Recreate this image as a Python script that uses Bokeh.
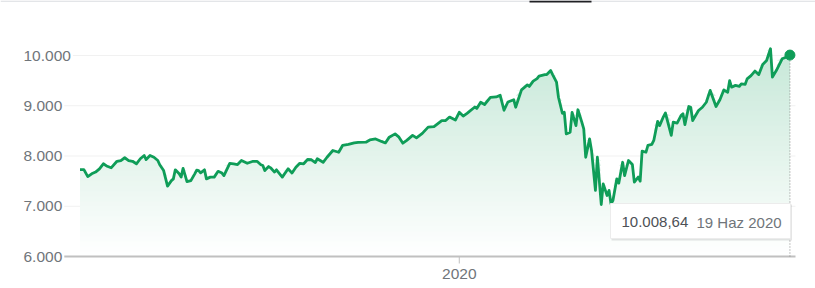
import numpy as np
from datetime import date
from bokeh.plotting import figure
from bokeh.models import Range1d, Label, BoxAnnotation
from bokeh.embed import file_html
from bokeh.resources import INLINE

# ---------------- data ----------------
START_DATE = date(2019, 6, 20)
day_offset = [0, 2, 4, 6, 8, 10, 12, 14, 16, 19,
              21, 23, 25, 27, 29, 31, 33, 34, 36, 38,
              40, 41, 43, 45, 47, 48, 49, 51, 52, 53,
              55, 57, 59, 60, 61, 62, 64, 65, 67, 69,
              71, 73, 74, 77, 79, 81, 83, 86, 89, 91,
              93, 94, 95, 97, 98, 100, 101, 104, 107, 109,
              111, 113, 115, 117, 119, 121, 122, 125, 127, 130,
              133, 135, 138, 141, 143, 147, 149, 152, 155, 157,
              159, 162, 164, 166, 168, 171, 173, 176, 179, 182,
              185, 186, 188, 190, 193, 195, 197, 199, 203, 204,
              206, 208, 211, 214, 216, 218, 220, 223, 224, 227,
              230, 231, 233, 235, 236, 239, 240, 242, 243, 245,
              246, 248, 249, 250, 252, 253, 255, 256, 258, 259,
              260, 262, 263, 265, 266, 268, 269, 271, 272, 273,
              274, 276, 277, 279, 280, 282, 284, 285, 287, 288,
              289, 291, 292, 294, 295, 297, 298, 300, 301, 304,
              305, 307, 309, 310, 311, 313, 314, 315, 318, 320,
              322, 324, 327, 329, 331, 333, 334, 335, 337, 339,
              340, 342, 343, 345, 347, 349, 351, 353, 355, 356,
              358, 361, 363, 365]
close = [7730, 7730, 7590, 7645, 7680, 7745, 7845, 7795, 7765, 7895,
         7910, 7965, 7910, 7895, 7845, 7945, 8010, 7930, 8010, 7975,
         7910, 7825, 7710, 7400, 7510, 7545, 7725, 7645, 7580, 7755,
         7490, 7510, 7645, 7720, 7710, 7665, 7725, 7545, 7580, 7580,
         7695, 7660, 7610, 7855, 7845, 7830, 7910, 7855, 7895, 7895,
         7825, 7810, 7710, 7790, 7765, 7680, 7725, 7580, 7745, 7660,
         7775, 7855, 7845, 7930, 7925, 7870, 7945, 7875, 7975, 8110,
         8075, 8210, 8230, 8260, 8270, 8275, 8320, 8340, 8290, 8260,
         8375, 8440, 8375, 8255, 8310, 8410, 8360, 8450, 8575, 8585,
         8675, 8705, 8705, 8775, 8715, 8870, 8795, 8850, 8975, 8945,
         9070, 9025, 9165, 9175, 9210, 8910, 9075, 9120, 8970, 9315,
         9415, 9385, 9490, 9540, 9590, 9620, 9620, 9700, 9620, 9470,
         9170, 8850, 8870, 8440, 8475, 8870, 8605, 8920, 8675, 8540,
         7975, 8340, 8110, 7315, 7975, 7035, 7445, 7215, 7315, 7050,
         7115, 7545, 7460, 7875, 7610, 7910, 7830, 7480, 7580, 7500,
         8095, 8075, 8210, 8230, 8310, 8690, 8605, 8785, 8855, 8410,
         8675, 8655, 8805, 8840, 8625, 8985, 8970, 8705, 8905, 8970,
         9070, 9305, 8985, 9120, 9315, 9270, 9500, 9370, 9405, 9385,
         9435, 9425, 9535, 9600, 9690, 9620, 9820, 9900, 10135, 9570,
         9700, 9935, 9965, 10008.64]
y_ticks = [6000, 7000, 8000, 9000, 10000]
y_tick_labels = ["6.000", "7.000", "8.000", "9.000", "10.000"]
x_tick_dates = [date(2020, 1, 1)]
x_tick_labels = ["2020"]
last_value_label = "10.008,64"
last_date_label = "19 Haz 2020"

# ---------------- layout / style ----------------
GREEN = (15, 157, 88)
GREEN_HEX = "#0f9d58"
GRAY_TXT = "#70757a"
FONT = "Liberation Sans"
W, H = 815, 288
PLOT_L, PLOT_R, BASE_PX = 62, 795, 256
X0_PX, PX_PER_DAY = 79.5, 1.945
PX_PER_UNIT = 50.25 / 1000.0
Y_BASE = y_ticks[0]


def xd(px):
    return (px - X0_PX) / PX_PER_DAY


def yd(py):
    return Y_BASE + (BASE_PX - py) / PX_PER_UNIT


p = figure(width=W, height=H, output_backend="svg", toolbar_location=None,
           x_axis_type=None, y_axis_type=None,
           x_range=Range1d(xd(0), xd(W)),
           y_range=Range1d(yd(H), yd(0)),
           min_border=0)
p.outline_line_color = None
p.background_fill_color = "white"
p.border_fill_color = "white"
p.xgrid.visible = False
p.ygrid.visible = False

x = np.array(day_offset, dtype=float)
v = np.array(close, dtype=float)

# light horizontal gridlines
p.segment(x0=[xd(PLOT_L)] * 4, x1=[xd(PLOT_R)] * 4, y0=y_ticks[1:], y1=y_ticks[1:],
          line_color="#f1f1f1", line_width=1)

# gradient area: stacked opaque layers, each from its level up to the line
levels = np.arange(Y_BASE, 10300, 100)
TOP_ALPHA = 0.23
for L in levels:
    mid = L + 50
    a = min(TOP_ALPHA, max(0.0, TOP_ALPHA * (mid - Y_BASE) / (10000 - Y_BASE)))
    col = "#%02x%02x%02x" % tuple(int(round(255 - a * (255 - c))) for c in GREEN)
    p.varea(x=x, y1=np.full_like(v, L), y2=np.maximum(v, L), fill_color=col)

# baseline (x axis line) and the year tick
p.segment(x0=[xd(PLOT_L)], x1=[xd(PLOT_R)], y0=[Y_BASE], y1=[Y_BASE],
          line_color="#c0c0c0", line_width=2)
x_tick_pos = [(d - START_DATE).days for d in x_tick_dates]
p.segment(x0=x_tick_pos, x1=x_tick_pos, y0=[Y_BASE] * len(x_tick_pos),
          y1=[yd(BASE_PX + 7)] * len(x_tick_pos), line_color="#c0c0c0", line_width=1)
for pos, lbl in zip(x_tick_pos, x_tick_labels):
    p.add_layout(Label(x=pos, y=yd(273), text=lbl, text_align="center",
                       text_baseline="middle", text_font=FONT,
                       text_font_size="15.5px", text_color=GRAY_TXT))

# dotted vertical at last point
p.segment(x0=[x[-1]], y0=[Y_BASE], x1=[x[-1]], y1=[v[-1]],
          line_color="#8a8a8a", line_width=1, line_dash="1 2")

# line + last-point dot
p.line(x, v, line_color=GREEN_HEX, line_width=2.8, line_join="round")
p.scatter(x[-1:], v[-1:], size=10, color=GREEN_HEX)

# tooltip box
p.quad(left=[xd(611)], right=[xd(791.5)], top=[yd(204)], bottom=[yd(240)],
       fill_color="#000000", fill_alpha=0.10, line_color=None)
p.quad(left=[xd(610)], right=[xd(790)], top=[yd(203)], bottom=[yd(238)],
       fill_color="white", line_color="#ececec", line_width=1)
p.add_layout(Label(x=xd(621), y=yd(221.5), text=last_value_label,
                   text_align="left", text_baseline="middle",
                   text_font=FONT, text_font_size="15px", text_color="#4d5156"))
p.add_layout(Label(x=xd(696), y=yd(221.5), text=last_date_label,
                   text_align="left", text_baseline="middle",
                   text_font=FONT, text_font_size="15px", text_color=GRAY_TXT))

# y tick labels (left-aligned, white backing hides grid behind)
for t, lbl in zip(y_ticks, y_tick_labels):
    p.add_layout(Label(x=xd(21), y=t, text=lbl, text_align="left",
                       text_baseline="middle", text_font=FONT,
                       text_font_size="15.5px", text_color=GRAY_TXT,
                       background_fill_color="white", padding=2))

# page chrome at the top (thin rule + active-tab bar)
p.add_layout(BoxAnnotation(left=xd(0), right=xd(W), top=yd(0), bottom=yd(1.2),
                           fill_color="#dadce0", fill_alpha=1, line_color=None))
p.add_layout(BoxAnnotation(left=xd(529), right=xd(591), top=yd(0), bottom=yd(2),
                           fill_color="#202124", fill_alpha=1, line_color=None))

open("out.html", "w").write(file_html(p, INLINE))
